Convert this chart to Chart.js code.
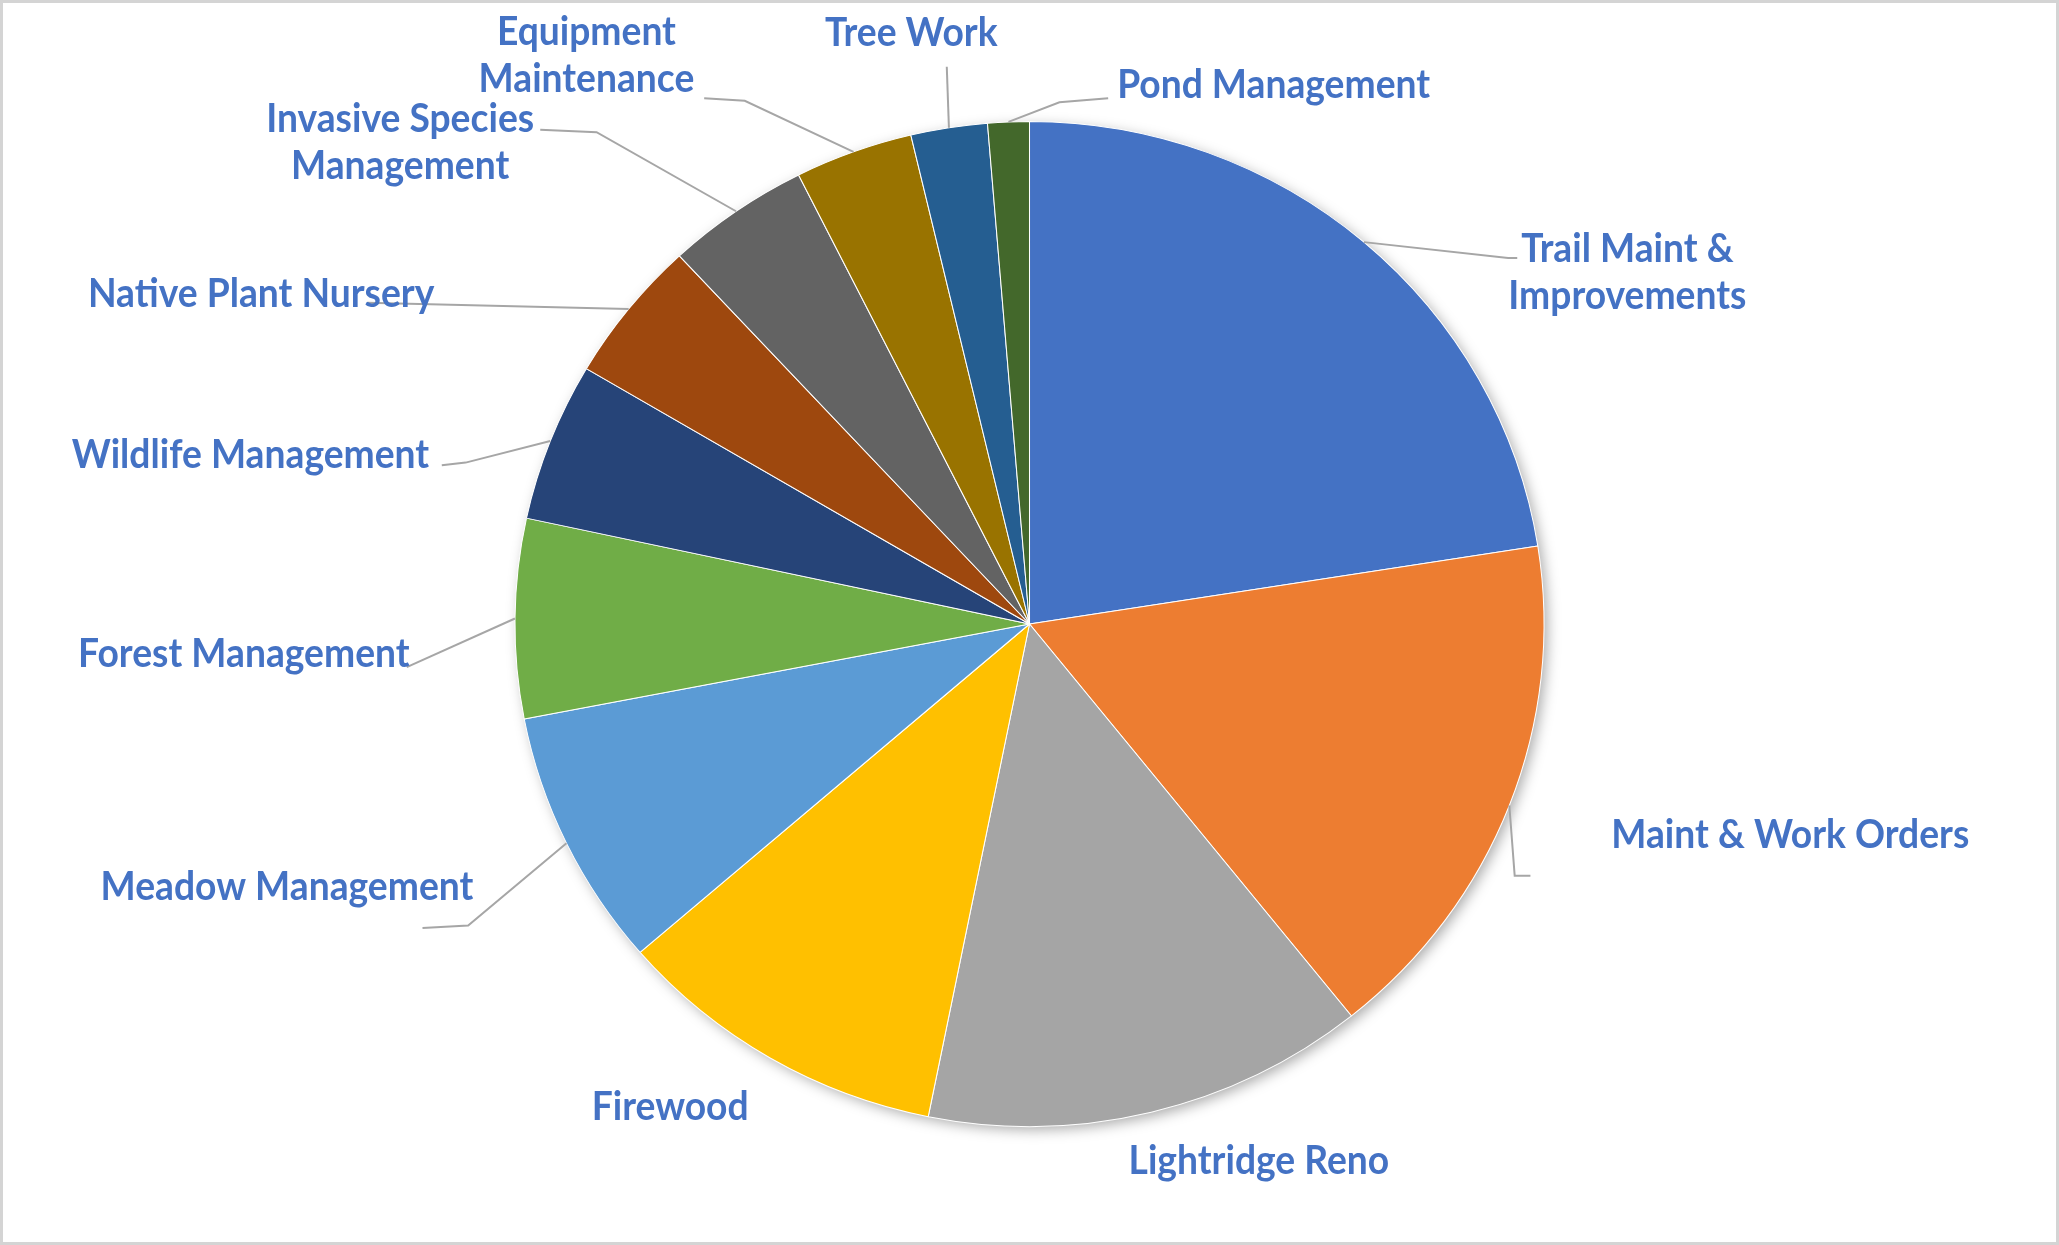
<!DOCTYPE html>
<html>
<head>
<meta charset="utf-8">
<script src="https://cdn.jsdelivr.net/npm/chart.js@4"></script>
<style>
  html, body { margin: 0; padding: 0; background: #fff; }
  #wrap { width: 2059px; height: 1245px; }
</style>
</head>
<body>
<div id="wrap"><canvas id="canvas" width="2059" height="1245"></canvas></div>
<script>
// data (share of work, %)
const categories = [
  ['Trail Maint &', 'Improvements'],
  ['Maint & Work Orders'],
  ['Lightridge Reno'],
  ['Firewood'],
  ['Meadow Management'],
  ['Forest Management'],
  ['Wildlife Management'],
  ['Native Plant Nursery'],
  ['Invasive Species', 'Management'],
  ['Equipment', 'Maintenance'],
  ['Tree Work'],
  ['Pond Management']
];
const shares = [22.5, 16.7, 13.9, 10.5, 8.3, 6.4, 5.1, 4.6, 4.5, 3.7, 2.4, 1.3];
const sliceColors = ['#4472C4', '#ED7D31', '#A5A5A5', '#FFC000', '#5B9BD5', '#70AD47',
                     '#264478', '#9E480E', '#636363', '#997300', '#255E91', '#43682B'];

// label placement, in units of the pie radius from its centre
const labelLayout = [
  { pos: [1.178, -0.693], path: [[0.943, -0.721], [0.961, -0.721]] },
  { pos: [1.499, 0.416], path: [[0.956, 0.496], [0.987, 0.496]] },
  { pos: [0.452, 1.059], path: [] },
  { pos: [-0.708, 0.951], path: [] },
  { pos: [-1.463, 0.519], path: [[-1.106, 0.594], [-1.196, 0.599]] },
  { pos: [-1.548, 0.059], path: [[-1.227, 0.085]] },
  { pos: [-1.535, -0.333], path: [[-1.111, -0.318], [-1.158, -0.313]] },
  { pos: [-1.514, -0.651], path: [[-1.305, -0.633]] },
  { pos: [-1.240, -0.948], path: [[-0.853, -0.969], [-0.964, -0.974]] },
  { pos: [-0.873, -1.119], path: [[-0.561, -1.031], [-0.641, -1.036]] },
  { pos: [-0.233, -1.165], path: [[-0.163, -1.098]] },
  { pos: [0.481, -1.062], path: [[0.059, -1.028], [0.155, -1.036]] }
];
const stretchX = 1.024;  // the original pie is a touch wider than tall
const spread = 1.01;

const pieShadow = {
  id: 'pieShadow',
  beforeDatasetsDraw(chart) {
    const arc = chart.getDatasetMeta(0).data[0];
    if (!arc) return;
    const { x, y, outerRadius } = arc.getProps(['x', 'y', 'outerRadius'], true);
    const ctx = chart.ctx;
    ctx.save();
    ctx.translate(x, y);
    ctx.scale(stretchX, 1);
    ctx.translate(-x, -y);
    ctx.save();
    ctx.shadowColor = 'rgba(0,0,0,0.35)';
    ctx.shadowBlur = 14;
    ctx.shadowOffsetX = 4;
    ctx.shadowOffsetY = 4;
    ctx.fillStyle = '#ffffff';
    ctx.beginPath();
    ctx.arc(x, y, outerRadius - 1, 0, Math.PI * 2);
    ctx.fill();
    ctx.restore();
  },
  afterDatasetsDraw(chart) {
    chart.ctx.restore();
  }
};

const outsideLabels = {
  id: 'outsideLabels',
  afterDatasetsDraw(chart) {
    const ctx = chart.ctx;
    const meta = chart.getDatasetMeta(0);
    ctx.save();
    ctx.font = '700 40px Lato';
    const squeeze = 358 / ctx.measureText('Maint & Work Orders').width;
    meta.data.forEach((arc, i) => {
      const p = arc.getProps(['x', 'y', 'startAngle', 'endAngle', 'outerRadius'], true);
      const R = p.outerRadius;
      const S = R * spread;
      const mid = (p.startAngle + p.endAngle) / 2;
      const lay = labelLayout[i];
      if (lay.path.length) {
        ctx.strokeStyle = '#a6a6a6';
        ctx.lineWidth = 2;
        ctx.beginPath();
        ctx.moveTo(p.x + Math.cos(mid) * R * stretchX, p.y + Math.sin(mid) * R);
        lay.path.forEach(pt => ctx.lineTo(p.x + pt[0] * S, p.y + pt[1] * S));
        ctx.stroke();
      }
      const lines = categories[i];
      const lh = 47;
      const cx = p.x + lay.pos[0] * S;
      const cy = p.y + lay.pos[1] * S - (lines.length - 1) * lh / 2;
      ctx.fillStyle = '#4472C4';
      ctx.textAlign = 'center';
      ctx.textBaseline = 'middle';
      lines.forEach((t, k) => {
        ctx.save();
        ctx.translate(cx, cy + k * lh);
        ctx.scale(squeeze, 1);
        ctx.fillText(t, 0, 0);
        ctx.restore();
      });
    });
    ctx.restore();
  }
};

const frame = {
  id: 'frame',
  afterDraw(chart) {
    const ctx = chart.ctx;
    ctx.save();
    ctx.strokeStyle = '#d4d4d4';
    ctx.lineWidth = 3;
    ctx.strokeRect(1.5, 1.5, chart.width - 3, chart.height - 3);
    ctx.restore();
  }
};

new Chart(document.getElementById('canvas').getContext('2d'), {
  type: 'pie',
  data: {
    labels: categories,
    datasets: [{
      data: shares,
      backgroundColor: sliceColors,
      borderColor: '#ffffff',
      borderWidth: 1
    }]
  },
  options: {
    responsive: false,
    animation: false,
    layout: { padding: { top: 121, bottom: 118, left: 0, right: 0 } },
    plugins: {
      legend: { display: false },
      tooltip: { enabled: false }
    }
  },
  plugins: [pieShadow, outsideLabels, frame]
});
</script>
</body>
</html>
